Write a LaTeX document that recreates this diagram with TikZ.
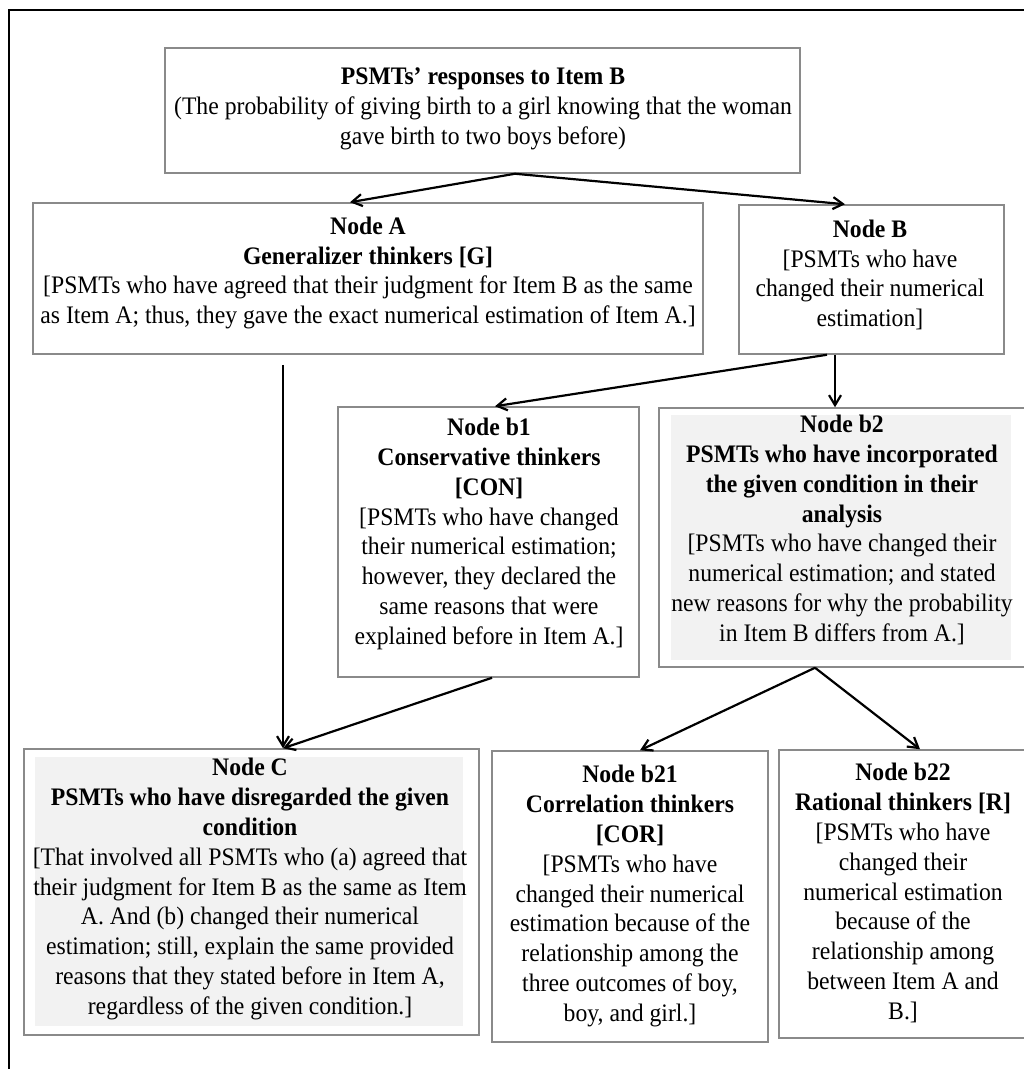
\documentclass[tikz,border=0pt]{standalone}
\usepackage{fontspec}
\setmainfont{Liberation Serif}[FakeStretch=0.94]
\usetikzlibrary{arrows.meta,fit}
\definecolor{boxgray}{HTML}{8A8A8A}
\definecolor{cellgray}{HTML}{F2F2F2}

\begin{document}
\begin{tikzpicture}[x=0.5pt,y=-0.5pt,
  box/.style={draw=boxgray,line width=0.75pt,inner sep=0pt},
  txt/.style={align=center,inner sep=0pt,font=\fontsize{12.6}{14.9}\selectfont},
  arr/.style={-{Straight Barb[length=5pt,width=6pt]},line width=1.1pt,black}]

\useasboundingbox (0,0) rectangle (1023,1069);

% outer frame (left and top edges)
\draw[line width=1pt] (9,1069) -- (9,10) -- (1030,10);

% shaded cells
\fill[cellgray] (671,415) rectangle (1011,660);
\fill[cellgray] (35,757) rectangle (463,1026);

% boxes
\node[box,fit={(165,48)(800,173)}] (top) {};
\node[box,fit={(33,203)(703,354)}] (A) {};
\node[box,fit={(739,205)(1004,354)}] (B) {};
\node[box,fit={(338,407)(639,677)}] (b1) {};
\node[box,fit={(659,408)(1030,667)}] (b2) {};
\node[box,fit={(24,749)(479,1035)}] (C) {};
\node[box,fit={(492,751)(768,1042)}] (b21) {};
\node[box,fit={(779,750)(1030,1038)}] (b22) {};

% texts
\node[txt] (ttop) at (483,109) {\textbf{PSMTs’ responses to Item B}\\
  (The probability of giving birth to a girl knowing that the woman\\
  gave birth to two boys before)};
\node[txt] (tA) at (368,273) {\textbf{Node A}\\
  \textbf{Generalizer thinkers [G]}\\
  {[}PSMTs who have agreed that their judgment for Item B as the same\\
  as Item A; thus, they gave the exact numerical estimation of Item A.]};
\node[txt] (tB) at (870,275) {\textbf{Node B}\\
  {[}PSMTs who have\\
  changed their numerical\\
  estimation]};
\node[txt] (tb1) at (489,534) {\textbf{Node b1}\\
  \textbf{Conservative thinkers}\\
  \textbf{[CON]}\\
  {[}PSMTs who have changed\\
  their numerical estimation;\\
  however, they declared the\\
  same reasons that were\\
  explained before in Item A.]};
\node[txt] (tb2) at (842,530) {\textbf{Node b2}\\
  \textbf{PSMTs who have incorporated}\\
  \textbf{the given condition in their}\\
  \textbf{analysis}\\
  {[}PSMTs who have changed their\\
  numerical estimation; and stated\\
  new reasons for why the probability\\
  in Item B differs from A.]};
\node[txt] (tC) at (250,889) {\textbf{Node C}\\
  \textbf{PSMTs who have disregarded the given}\\
  \textbf{condition}\\
  {[}That involved all PSMTs who (a) agreed that\\
  their judgment for Item B as the same as Item\\
  A. And (b) changed their numerical\\
  estimation; still, explain the same provided\\
  reasons that they stated before in Item A,\\
  regardless of the given condition.]};
\node[txt] (tb21) at (630,896) {\textbf{Node b21}\\
  \textbf{Correlation thinkers}\\
  \textbf{[COR]}\\
  {[}PSMTs who have\\
  changed their numerical\\
  estimation because of the\\
  relationship among the\\
  three outcomes of boy,\\
  boy, and girl.]};
\node[txt] (tb22) at (903,893) {\textbf{Node b22}\\
  \textbf{Rational thinkers [R]}\\
  {[}PSMTs who have\\
  changed their\\
  numerical estimation\\
  because of the\\
  relationship among\\
  between Item A and\\
  B.]};

% connectors
\draw[arr] ([xshift=16.25pt]top.south) -- ([xshift=-9pt]A.north);
\draw[arr] ([xshift=16.25pt]top.south) -- ([xshift=-13.25pt]B.north);
\draw[arr] ([xshift=-42.5pt,yshift=-5pt]A.south) -- ([xshift=15.75pt]C.north);
\draw[arr] ([xshift=1.75pt]b1.south) -- ([xshift=15.75pt]C.north);
\draw[arr] ([xshift=-22.25pt]B.south) -- ([xshift=3.25pt]b1.north);
\draw[arr] ([xshift=-18.25pt]B.south) -- ([xshift=-4.75pt]b2.north);
\draw[arr] ([xshift=-14.75pt]b2.south) -- ([xshift=5pt]b21.north);
\draw[arr] ([xshift=-14.75pt]b2.south) -- ([xshift=7.75pt]b22.north);

\end{tikzpicture}
\end{document}
